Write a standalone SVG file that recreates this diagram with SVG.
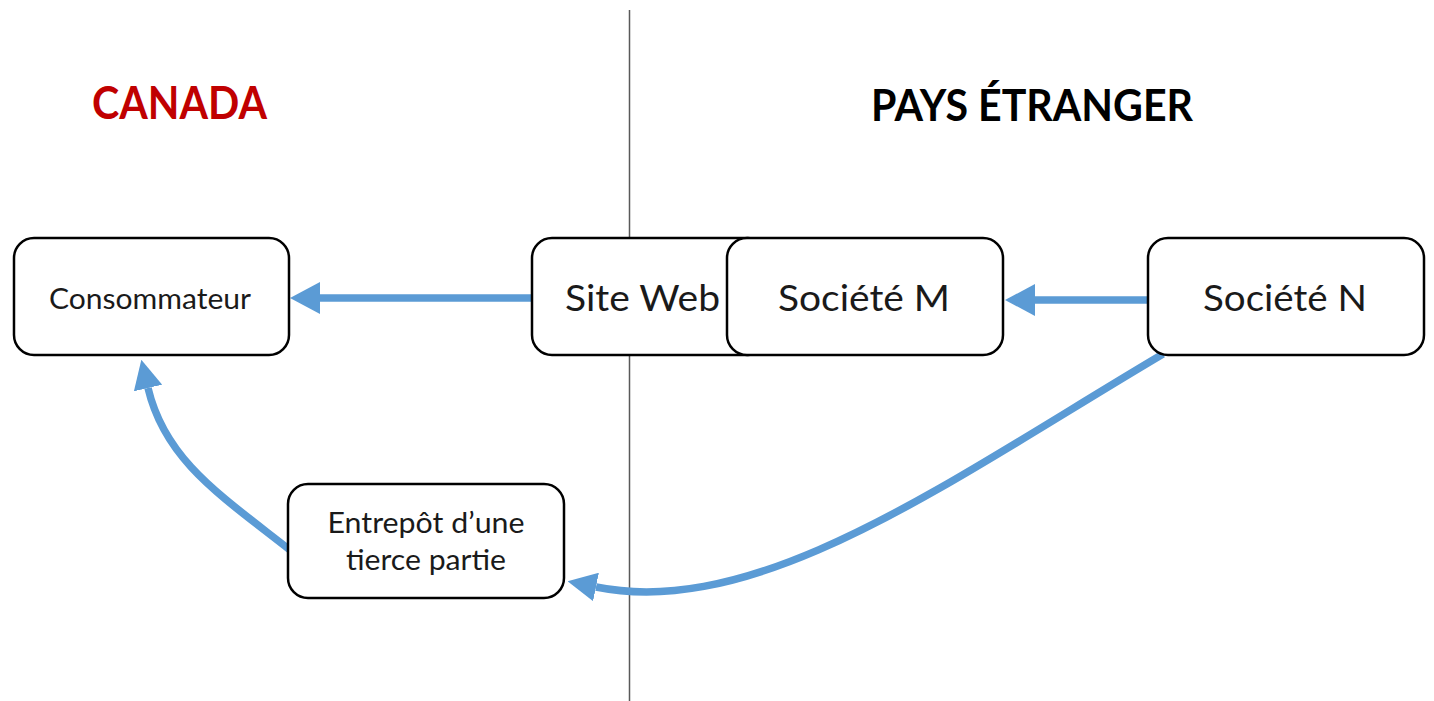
<svg xmlns="http://www.w3.org/2000/svg" width="1434" height="701" viewBox="0 0 1434 701">
  <style>
    .box { fill: #ffffff; stroke: #000000; stroke-width: 2.5; }
    .lbl { font-family: Lato, "Open Sans", "Liberation Sans", sans-serif; fill: #1a1a1a; }
    .head { font-family: Lato, "Open Sans", "Liberation Sans", sans-serif; font-weight: bold; }
    .flow { fill: none; stroke: #5B9BD5; stroke-width: 7.5; }
  </style>
  <defs>
    <marker id="arrow" viewBox="0 0 30 32" refX="0" refY="16" markerWidth="30" markerHeight="32" markerUnits="userSpaceOnUse" orient="auto">
      <path d="M0,0 L30,16 L0,32 Z" fill="#5B9BD5"/>
    </marker>
    <marker id="arrowSm" viewBox="0 0 29 29" refX="0" refY="14.5" markerWidth="29" markerHeight="29" markerUnits="userSpaceOnUse" orient="auto">
      <path d="M0,0 L29,14.5 L0,29 Z" fill="#5B9BD5"/>
    </marker>
  </defs>

  <rect width="1434" height="701" fill="#ffffff"/>

  <!-- border between the two countries -->
  <line x1="629.5" y1="10" x2="629.5" y2="701" stroke="#595959" stroke-width="1.5"/>

  <!-- region headings -->
  <text class="head" x="92" y="119" font-size="45" fill="#C00000" textLength="175" lengthAdjust="spacingAndGlyphs">CANADA</text>
  <text class="head" x="871" y="121" font-size="43" fill="#000000" textLength="322" lengthAdjust="spacingAndGlyphs">PAYS ÉTRANGER</text>

  <!-- connectors -->
  <g id="connectors">
    <path class="flow" d="M531,298 H320" stroke-width="8" marker-end="url(#arrow)"/>
    <path class="flow" d="M1147,300 H1035" stroke-width="8" marker-end="url(#arrow)"/>
    <path class="flow" d="M1163,354 C950,480 760,620 596,587" marker-end="url(#arrowSm)"/>
    <path class="flow" d="M290,550 C220,495 165,460 148,388" marker-end="url(#arrowSm)"/>
  </g>

  <g id="consommateur">
    <rect class="box" x="14" y="238" width="275" height="117" rx="20"/>
    <text class="lbl" x="49" y="309" font-size="29" textLength="202" lengthAdjust="spacingAndGlyphs">Consommateur</text>
  </g>

  <g id="site-web">
    <rect class="box" x="532" y="238" width="236" height="117" rx="20"/>
    <text class="lbl" x="565" y="311" font-size="37.5" textLength="155" lengthAdjust="spacingAndGlyphs">Site Web</text>
  </g>

  <g id="societe-m">
    <rect class="box" x="727" y="238" width="276" height="117" rx="20"/>
    <text class="lbl" x="864" y="311" font-size="37.5" text-anchor="middle" textLength="172" lengthAdjust="spacingAndGlyphs">Société M</text>
  </g>

  <g id="societe-n">
    <rect class="box" x="1148" y="238" width="276" height="117" rx="20"/>
    <text class="lbl" x="1285" y="311" font-size="37.5" text-anchor="middle" textLength="164" lengthAdjust="spacingAndGlyphs">Société N</text>
  </g>

  <g id="entrepot">
    <rect class="box" x="288" y="484" width="276" height="114" rx="20"/>
    <text class="lbl" x="426" y="533" font-size="29" text-anchor="middle" textLength="197" lengthAdjust="spacingAndGlyphs">Entrepôt d’une</text>
    <text class="lbl" x="426" y="570" font-size="29" text-anchor="middle" textLength="160" lengthAdjust="spacingAndGlyphs">tierce partie</text>
  </g>
</svg>
